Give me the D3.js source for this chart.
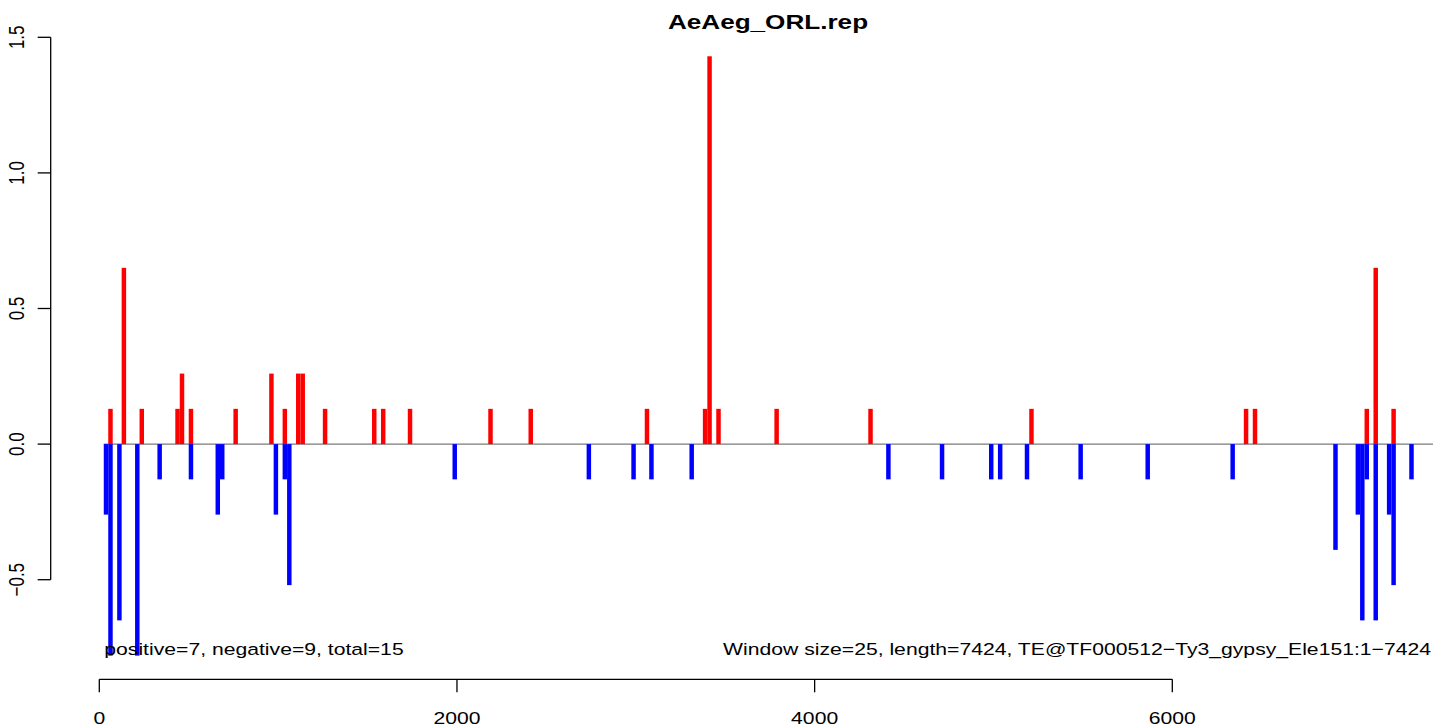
<!DOCTYPE html>
<html>
<head>
<meta charset="utf-8">
<script src="https://cdn.jsdelivr.net/npm/d3@7"></script>
<style>
  html, body { margin: 0; padding: 0; background: #fff; }
  svg { display: block; font-family: "Liberation Sans", Arial, Helvetica, sans-serif; }
</style>
</head>
<body>
<svg id="chart" width="1433" height="727"></svg>
<script>
// ---- data ----
const title = "AeAeg_ORL.rep";
const windowSize = 25;
const seqLength = 7424;
const posStarts = [50, 125, 225, 425, 450, 500, 750, 950, 1025, 1100, 1125, 1250,
  1525, 1575, 1725, 2175, 2400, 3050, 3375, 3400, 3450, 3775, 4300, 5200,
  6400, 6450, 7075, 7125, 7225];
const posValues = [0.13, 0.65, 0.13, 0.13, 0.26, 0.13, 0.13, 0.26, 0.13, 0.26, 0.26, 0.13,
  0.13, 0.13, 0.13, 0.13, 0.13, 0.13, 0.13, 1.43, 0.13, 0.13, 0.13, 0.13,
  0.13, 0.13, 0.13, 0.65, 0.13];
const negStarts = [25, 50, 100, 200, 325, 500, 650, 675, 975, 1025, 1050,
  1975, 2725, 2975, 3075, 3300, 4400, 4700, 4975, 5025, 5175, 5475, 5850, 6325,
  6900, 7025, 7050, 7075, 7125, 7200, 7225, 7325];
const negValues = [-0.26, -0.78, -0.65, -0.78, -0.13, -0.13, -0.26, -0.13, -0.26, -0.13, -0.52,
  -0.13, -0.13, -0.13, -0.13, -0.13, -0.13, -0.13, -0.13, -0.13, -0.13, -0.13, -0.13, -0.13,
  -0.39, -0.26, -0.65, -0.13, -0.65, -0.26, -0.52, -0.13];
const xTicks = [0, 2000, 4000, 6000];
const yTicks = [-0.5, 0.0, 0.5, 1.0, 1.5];
const yTickLabels = ["\u22120.5", "0.0", "0.5", "1.0", "1.5"];
const leftNote = "positive=7, negative=9, total=15";
const rightNote = "Window size=25, length=7424, TE@TF000512\u2212Ty3_gypsy_Ele151:1\u22127424";

// ---- layout ----
const svg = d3.select("#chart");
const SX = 1.245;     // horizontal stretch of the text in the reference
const FS = 17;        // base font size
const x = d3.scaleLinear().domain([0, 6000]).range([99.3, 1172.3]);
const y = d3.scaleLinear().domain([-0.5, 1.5]).range([579.7, 37.3]);

// zero line
svg.append("line")
  .attr("x1", x(windowSize)).attr("x2", x(seqLength + windowSize + 10))
  .attr("y1", y(0)).attr("y2", y(0))
  .attr("stroke", "#7a7a7a").attr("stroke-width", 1.4);

// bars
const posData = posStarts.map((s, i) => ({ s, v: posValues[i] }));
const negData = negStarts.map((s, i) => ({ s, v: negValues[i] }));
svg.append("g").selectAll("rect").data(posData).join("rect")
  .attr("x", d => x(d.s)).attr("width", d => x(d.s + windowSize) - x(d.s))
  .attr("y", d => y(d.v)).attr("height", d => y(0) - y(d.v))
  .attr("fill", "#ff0000");
svg.append("g").selectAll("rect").data(negData).join("rect")
  .attr("x", d => x(d.s)).attr("width", d => x(d.s + windowSize) - x(d.s))
  .attr("y", y(0)).attr("height", d => y(d.v) - y(0))
  .attr("fill", "#0000ff");

// x axis
const xAxisY = 679.3;
const gx = svg.append("g");
gx.append("line").attr("x1", x(xTicks[0])).attr("x2", x(xTicks[xTicks.length - 1]))
  .attr("y1", xAxisY).attr("y2", xAxisY).attr("stroke", "#000").attr("stroke-width", 1.3);
gx.selectAll("line.tick").data(xTicks).join("line").attr("class", "tick")
  .attr("x1", d => x(d)).attr("x2", d => x(d))
  .attr("y1", xAxisY).attr("y2", xAxisY + 13).attr("stroke", "#000").attr("stroke-width", 1.3);
gx.selectAll("text").data(xTicks).join("text")
  .attr("transform", d => `translate(${x(d)},724) scale(${SX},1)`)
  .attr("text-anchor", "middle").attr("font-size", FS).attr("fill", "#000")
  .text(d => d);

// y axis
const yAxisX = 50.7;
const gy = svg.append("g");
gy.append("line").attr("x1", yAxisX).attr("x2", yAxisX)
  .attr("y1", y(yTicks[0])).attr("y2", y(yTicks[yTicks.length - 1]))
  .attr("stroke", "#000").attr("stroke-width", 1.3);
gy.selectAll("line.tick").data(yTicks).join("line").attr("class", "tick")
  .attr("x1", yAxisX - 13).attr("x2", yAxisX)
  .attr("y1", d => y(d)).attr("y2", d => y(d)).attr("stroke", "#000").attr("stroke-width", 1.3);
gy.selectAll("text").data(yTicks).join("text")
  .attr("transform", d => `translate(23.5,${y(d)}) rotate(-90) scale(1,${SX})`)
  .attr("text-anchor", "middle").attr("font-size", FS).attr("fill", "#000")
  .text((d, i) => yTickLabels[i]);

// title
svg.append("text")
  .attr("transform", `translate(768,29) scale(1.28,1)`)
  .attr("text-anchor", "middle").attr("font-size", FS * 1.2).attr("font-weight", "bold")
  .attr("fill", "#000").text(title);

// notes
svg.append("text")
  .attr("transform", `translate(104.3,655) scale(${SX},1)`)
  .attr("text-anchor", "start").attr("font-size", FS).attr("fill", "#000").text(leftNote);
svg.append("text")
  .attr("transform", `translate(1431,655) scale(${SX},1)`)
  .attr("text-anchor", "end").attr("font-size", FS).attr("fill", "#000").text(rightNote);
</script>
</body>
</html>
